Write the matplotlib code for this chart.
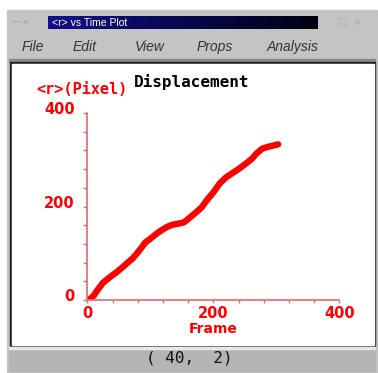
import numpy as np
import matplotlib
matplotlib.use("Agg")
import matplotlib.pyplot as plt
import matplotlib.transforms as mtransforms
from matplotlib.patches import Rectangle
from matplotlib.colors import LinearSegmentedColormap

# Datos (frame, <r> en pixeles)
frames = [2, 6, 10, 16, 25, 35, 47, 55, 65, 72, 79, 86, 92, 100, 111, 120, 126,
          135, 147, 153, 158, 166, 174, 182, 190, 200, 210, 220, 231, 240, 253,
          262, 269, 278, 288, 297, 303]
radio = [0, 4, 9, 21, 37, 48, 60, 69, 81, 89, 100, 112, 123, 131, 143, 151, 156,
         161, 164, 166, 171, 180, 189, 199, 214, 230, 249, 262, 272, 280, 293,
         303, 314, 324, 328, 331, 333]

y_ticks = list(range(0, 401, 40))
y_labels = ["0", "", "", "", "", "200", "", "", "", "", "400"]
x_ticks = list(range(0, 401, 40))
x_labels = ["0", "", "", "", "", "200", "", "", "", "", "400"]
menu_items = ["File", "Edit", "View", "Props", "Analysis"]
menu_x = [33, 85, 150, 215, 293]

W, H = 378, 373
fig = plt.figure(figsize=(W / 100, H / 100), dpi=100)
fig.patch.set_facecolor("white")

# Marco de la ventana (coordenadas en pixeles)
bg = fig.add_axes([0, 0, 1, 1], zorder=0)
bg.set_xlim(0, W)
bg.set_ylim(H, 0)
bg.axis("off")
gris = "#c4c4c4"
bg.add_patch(Rectangle((7, 10), 370, 362, color=gris))
grad = np.linspace(0, 1, 256).reshape(1, -1)
cmap = LinearSegmentedColormap.from_list("tb", ["#101088", "#000010"])
bg.imshow(grad, extent=(48, 318, 29, 16), cmap=cmap, aspect="auto", zorder=1)
bg.text(52, 22.5, "<r> vs Time Plot", color="white", fontsize=7.5, va="center",
        family="Liberation Sans", zorder=2)
bg.text(12, 22, "— ⇐", color="#9a9a9a", fontsize=6, va="center")
bg.text(338, 22, "□  ×", color="#a8a8a8", fontsize=7, va="center")
for nombre, px in zip(menu_items, menu_x):
    bg.text(px, 47, nombre, color="#333333", fontsize=10, style="italic",
            ha="center", va="center", family="Liberation Sans")
bg.add_patch(Rectangle((9, 59), 366, 3, color="#8a8a8a"))
bg.add_patch(Rectangle((10, 62), 365, 284, color="#222222"))
bg.add_patch(Rectangle((12, 64), 362, 281, color="white"))
bg.add_patch(Rectangle((9, 347), 366, 24, color="#b4b4b4"))
bg.add_patch(Rectangle((9, 347), 366, 2, color="#e8e8e8"))
bg.text(189, 358, "( 40,  2)", color="#111111", fontsize=11.5, family="DejaVu Sans Mono",
        ha="center", va="center")

# Grafico
rojo = "#ff0000"
eje = "#e46a6a"
ax = fig.add_axes([87.3 / W, (H - 300) / H, 252 / W, 187 / H], zorder=2)
ax.patch.set_alpha(0)
ax.plot(frames, radio, color=rojo, lw=4.6, solid_capstyle="round", solid_joinstyle="round")
ax.set_xlim(0, 400)
ax.set_ylim(0, 400)
for s in ["top", "right"]:
    ax.spines[s].set_visible(False)
for s in ["left", "bottom"]:
    ax.spines[s].set_color(eje)
    ax.spines[s].set_linewidth(1.2)
ax.set_yticks(y_ticks)
ax.set_yticklabels(y_labels)
ax.set_xticks(x_ticks)
ax.set_xticklabels(x_labels)
ax.tick_params(axis="y", colors=eje, length=3, width=1, pad=6,
               labelcolor=rojo, labelsize=10.5)
ax.tick_params(axis="x", colors=eje, length=2, width=1, pad=2,
               labelcolor=rojo, labelsize=10.5)
for lab in ax.get_yticklabels() + ax.get_xticklabels():
    lab.set_fontweight("bold")
off = mtransforms.ScaledTranslation(0, 5 / 100, fig.dpi_scale_trans)
for lab in ax.get_yticklabels():
    lab.set_transform(lab.get_transform() + off)

fig.text(82 / W, 1 - 90 / H, "<r>(Pixel)", color=rojo, fontsize=11, fontweight="bold",
         family="DejaVu Sans Mono", ha="center", va="center")
fig.text(192 / W, 1 - 82 / H, "Displacement", color="black", fontsize=11.5,
         fontweight="bold", family="DejaVu Sans Mono", ha="center", va="center")
fig.text(213 / W, 1 - 329 / H, "Frame", color=rojo, fontsize=10, fontweight="bold",
         ha="center", va="center")

fig.savefig("out.png", dpi=100)
